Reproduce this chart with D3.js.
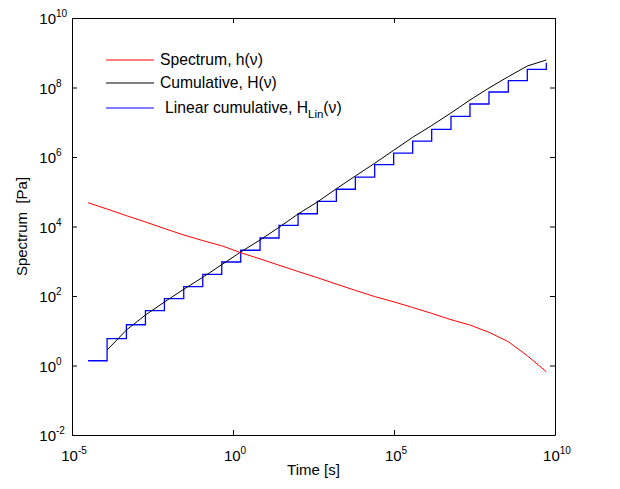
<!DOCTYPE html>
<html>
<head>
<meta charset="utf-8">
<script src="https://cdn.jsdelivr.net/npm/d3@7"></script>
<style>
  body { margin: 0; background: #fff; }
  svg { font-family: "Liberation Sans", Arial, Helvetica, sans-serif; }
</style>
</head>
<body>
<svg id="chart" width="620" height="489"></svg>
<script>
// time nodes [s]
const times = [3.16e-5, 1.23e-4, 4.90e-4, 1.91e-3, 7.41e-3, 2.95e-2, 0.115, 0.447, 1.74, 6.92,
    26.9, 105, 417, 1620, 6310, 2.51e4, 9.77e4, 3.80e5, 1.48e6, 5.89e6,
    2.29e7, 8.91e7, 3.55e8, 1.38e9, 5.37e9];

// spectrum h(v) [Pa]
const spectrum = [4.84e4, 3.17e4, 2.05e4, 1.35e4, 8750, 5690, 3930, 2790, 1760, 1170,
    769, 507, 337, 220, 145, 96.2, 68.1, 46.7, 31.6, 20.8,
    14.6, 9.04, 4.84, 1.91, 0.664];

// cumulative H(v), starts at second time node
const cumulative = [null, 2.79, 10.5, 28.4, 67.1, 156, 345, 796, 1850, 4090,
    9480, 2.29e4, 5.07e4, 1.22e5, 2.84e5, 6.59e5, 1.56e6, 3.69e6, 8.05e6, 1.85e7,
    4.37e7, 9.68e7, 2.05e8, 4.16e8, 6.18e8];

// linear cumulative H_Lin(v), step levels
const linCumulative = [1.37, 5.90, 14.9, 37.8, 83.6, 185, 421, 951, 2070, 4670,
    1.08e4, 2.33e4, 5.31e4, 1.18e5, 2.65e5, 6.00e5, 1.30e6, 2.88e6, 6.27e6, 1.48e7,
    3.35e7, 7.43e7, 1.57e8, 3.34e8, 5.18e8];

const xTickExp = [-5, 0, 5, 10];
const yTickExp = [-2, 0, 2, 4, 6, 8, 10];

const svg = d3.select("#chart");
const margin = { top: 18, right: 65, bottom: 54, left: 72 };
const width = 620 - margin.left - margin.right;
const height = 489 - margin.top - margin.bottom;

const x = d3.scaleLog().domain([1e-5, 1e10]).range([margin.left, margin.left + width]);
const y = d3.scaleLog().domain([1e-2, 1e10]).range([margin.top + height, margin.top]);

const xTicks = xTickExp.map(e => Math.pow(10, e));
const yTicks = yTickExp.map(e => Math.pow(10, e));

//box + inward ticks
svg.append("g")
    .attr("transform", `translate(0,${margin.top + height})`)
    .call(d3.axisBottom(x).tickValues(xTicks).tickSizeInner(-5).tickSizeOuter(0).tickFormat(""));
svg.append("g")
    .attr("transform", `translate(0,${margin.top})`)
    .call(d3.axisTop(x).tickValues(xTicks).tickSizeInner(-5).tickSizeOuter(0).tickFormat(""));
svg.append("g")
    .attr("transform", `translate(${margin.left},0)`)
    .call(d3.axisLeft(y).tickValues(yTicks).tickSizeInner(-5).tickSizeOuter(0).tickFormat(""));
svg.append("g")
    .attr("transform", `translate(${margin.left + width},0)`)
    .call(d3.axisRight(y).tickValues(yTicks).tickSizeInner(-5).tickSizeOuter(0).tickFormat(""));

svg.selectAll(".domain, .tick line").attr("stroke", "#000").attr("stroke-width", 1);

//tick labels with superscript exponents
const xl = svg.append("g").selectAll("text")
    .data(xTickExp)
    .enter()
    .append("text")
    .attr("x", d => x(Math.pow(10, d)) + 2)
    .attr("y", margin.top + height + 26)
    .attr("text-anchor", "middle")
    .style("font-size", "15px");
xl.append("tspan").text("10");
xl.append("tspan").attr("dy", -7).style("font-size", "10px").text(d => d);

const yl = svg.append("g").selectAll("text")
    .data(yTickExp)
    .enter()
    .append("text")
    .attr("x", 56)
    .attr("y", d => y(Math.pow(10, d)) + 6)
    .style("font-size", "15px");
yl.append("tspan").attr("text-anchor", "end").text("10");
yl.append("tspan").attr("dy", -7).style("font-size", "10px").text(d => d);
// place superscript after the right-aligned base
yl.each(function() {
    const t = d3.select(this);
    const base = t.select("tspan").node().getComputedTextLength();
    t.attr("x", 56 - base);
    t.selectAll("tspan").attr("text-anchor", null);
});

//axis labels
svg.append("text")
    .attr("x", margin.left + width / 2)
    .attr("y", 475)
    .attr("text-anchor", "middle")
    .style("font-size", "15px")
    .text("Time [s]");

svg.append("text")
    .attr("transform", "rotate(-90)")
    .attr("x", -(margin.top + height / 2))
    .attr("y", 27)
    .attr("text-anchor", "middle")
    .style("font-size", "15px")
    .text("Spectrum\u00a0 [Pa]");

//curves
const specData = times.map((t, i) => ({ t: t, v: spectrum[i] }));
const cumData = times.map((t, i) => ({ t: t, v: cumulative[i] })).filter(d => d.v != null);
const linData = times.map((t, i) => ({ t: t, v: linCumulative[i] }));

const line = d3.line()
    .x(d => x(d.t))
    .y(d => y(d.v));

const stepLine = d3.line()
    .curve(d3.curveStepAfter)
    .x(d => x(d.t))
    .y(d => y(d.v));

svg.append("path")
    .datum(linData)
    .attr("fill", "none")
    .attr("stroke", "#0000ff")
    .attr("stroke-width", 1.3)
    .attr("d", stepLine);

svg.append("path")
    .datum(cumData)
    .attr("fill", "none")
    .attr("stroke", "#000")
    .attr("stroke-width", 1)
    .attr("d", line);

svg.append("path")
    .datum(specData)
    .attr("fill", "none")
    .attr("stroke", "#ff0000")
    .attr("stroke-width", 1)
    .attr("d", line);

//legend
const legendItems = [
    { color: "#ff0000", y: 60 },
    { color: "#000", y: 83 },
    { color: "#0000ff", y: 108 }
];

const legend = svg.append("g");
legend.selectAll("line")
    .data(legendItems)
    .enter()
    .append("line")
    .attr("x1", 106)
    .attr("x2", 154)
    .attr("y1", d => d.y)
    .attr("y2", d => d.y)
    .attr("stroke", d => d.color)
    .attr("stroke-width", 1);

legend.append("text")
    .attr("x", 160).attr("y", 65)
    .style("font-size", "15.7px")
    .text("Spectrum, h(\u03bd)");
legend.append("text")
    .attr("x", 160).attr("y", 88)
    .style("font-size", "15.7px")
    .text("Cumulative, H(\u03bd)");
const lin = legend.append("text")
    .attr("x", 165).attr("y", 113)
    .style("font-size", "15.7px");
lin.append("tspan").text("Linear cumulative, H");
lin.append("tspan").attr("dy", 5).style("font-size", "11.5px").text("Lin");
lin.append("tspan").attr("dy", -5).text("(\u03bd)");
</script>
</body>
</html>
